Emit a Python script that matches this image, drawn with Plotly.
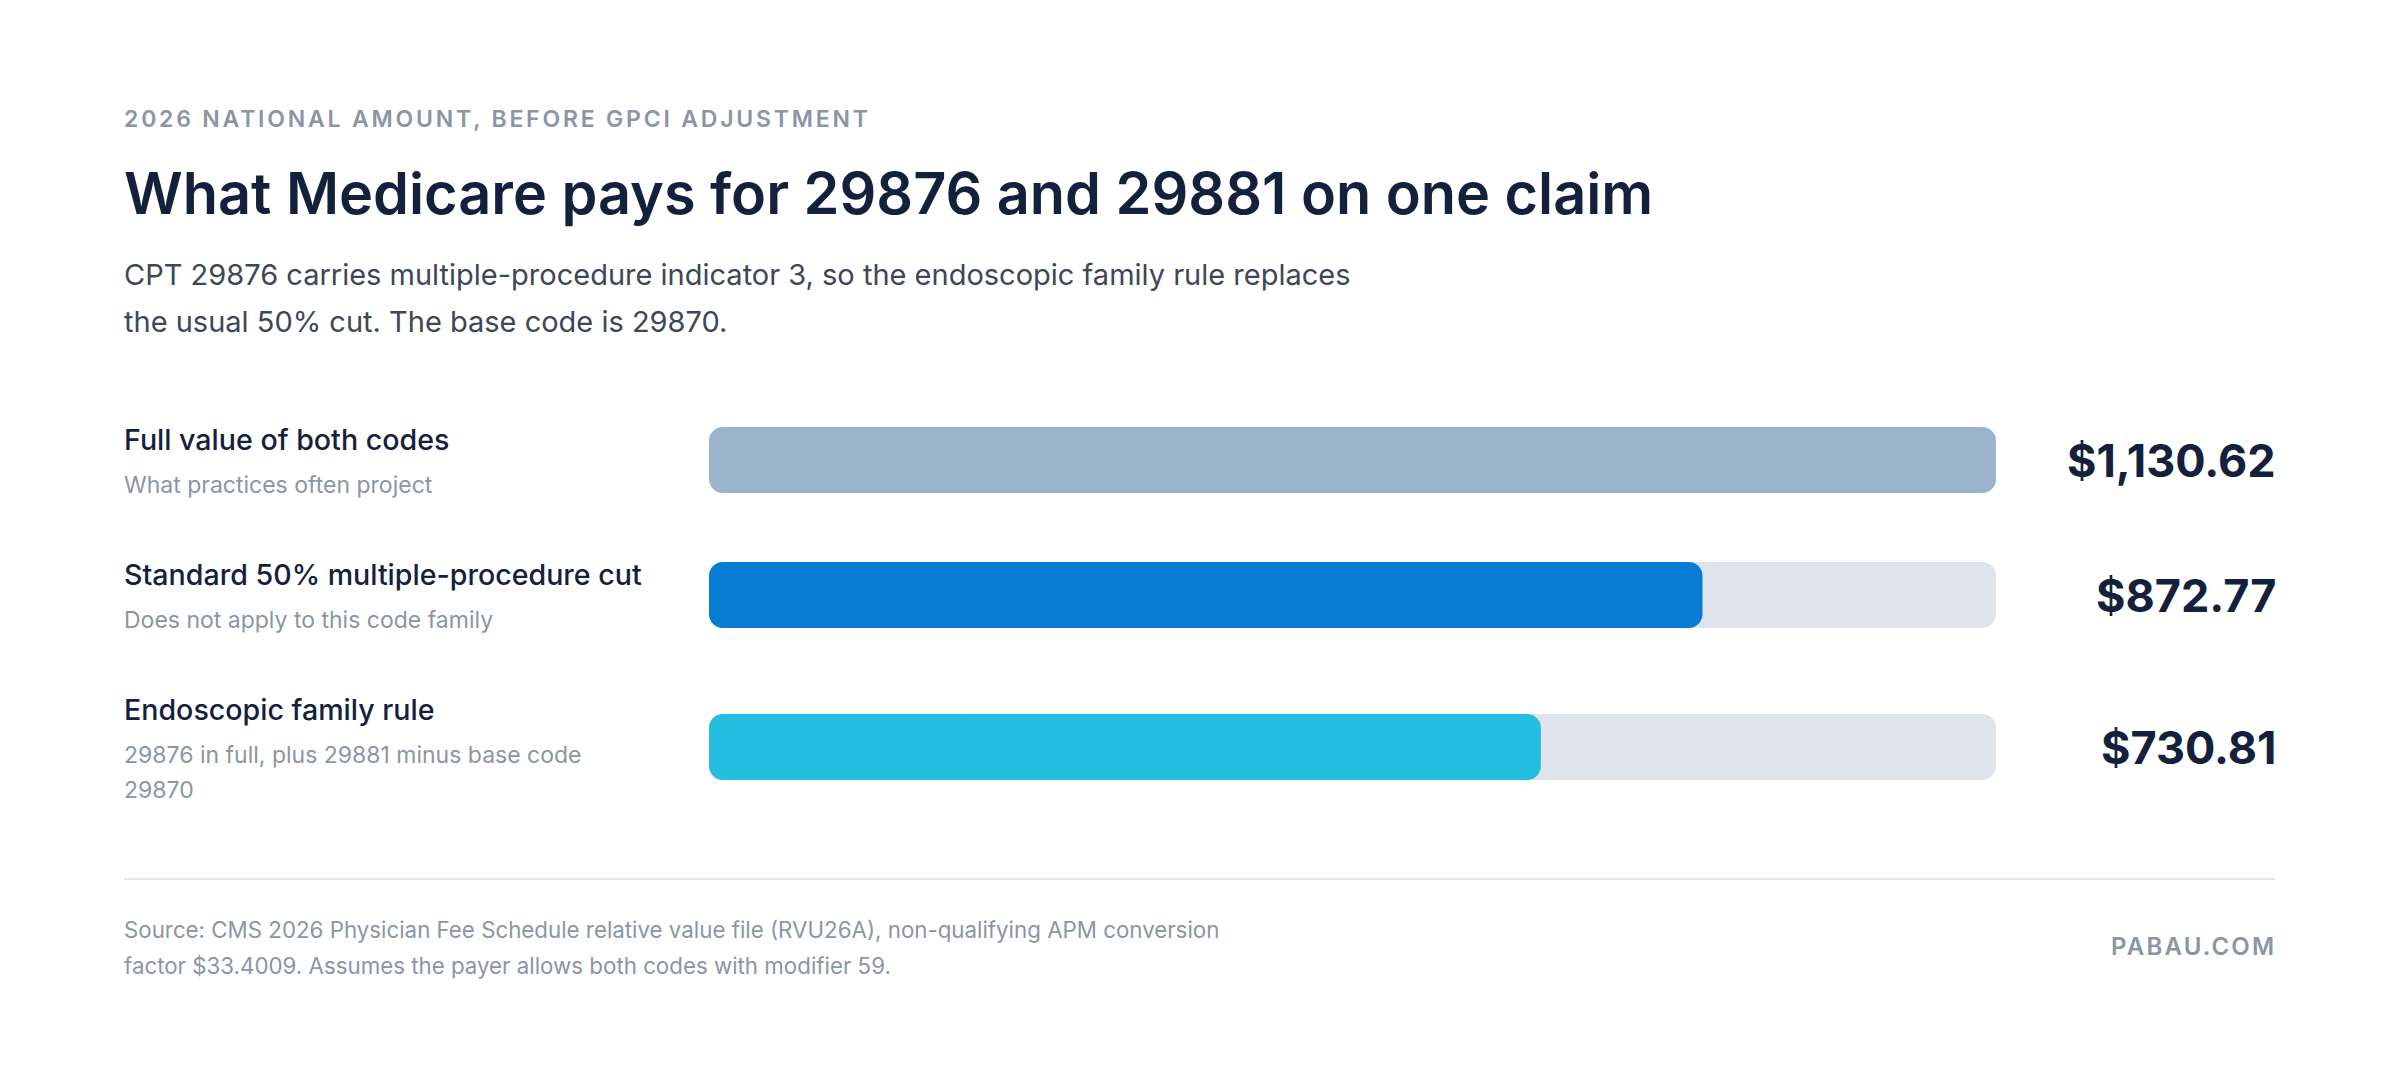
import textwrap
import plotly.graph_objects as go

# --- chart data -------------------------------------------------------------
labels = ["Full value of both codes",
          "Standard 50% multiple-procedure cut",
          "Endoscopic family rule"]
notes = ["What practices often project",
         "Does not apply to this code family",
         "29876 in full, plus 29881 minus base code 29870"]
amounts = [1130.62, 872.77, 730.81]

kicker = "2026 NATIONAL AMOUNT, BEFORE GPCI ADJUSTMENT"
title = "What Medicare pays for 29876 and 29881 on one claim"
subtitle = ["CPT 29876 carries multiple-procedure indicator 3, so the endoscopic family rule replaces",
            "the usual 50% cut. The base code is 29870."]
source = ["Source: CMS 2026 Physician Fee Schedule relative value file (RVU26A), non-qualifying APM conversion",
          "factor $33.4009. Assumes the payer allows both codes with modifier 59."]
brand = "PABAU.COM"

# --- styling ----------------------------------------------------------------
W, H = 2400, 1086
OFF = 8  # page body margin pushes the figure 8px right/down
FONT = "Inter"
NAVY = "#14213d"
GREY = "#8b95a5"
SUB = "#3d4758"
TRACK = "#dfe3ec"
bar_colors = ["#9cb4cb", "#067dd3", "#25bde0"]
RADIUS = 14

def px(x):
    return (x - OFF) / W

left = px(122)
right = px(2278)
bar_x0, bar_x1 = px(709), px(1996)

# wrap notes and work out row centres (taller rows for wrapped notes)
wrapped = [textwrap.wrap(n, 42) for n in notes]
centres = []
y = 460
for i, lines in enumerate(wrapped):
    if i > 0:
        y += 135 + 17 * (len(wrapped[i - 1]) - 1) + 17 * (len(lines) - 1)
    centres.append(y)

top = max(amounts)

fig = go.Figure()

def rounded_bars(values, colors):
    # two overlapping halves, each rounded at its outer end, so the bar
    # gets rounded corners on both sides without a visible seam
    fig.add_trace(go.Bar(x=[-0.7 * v for v in values], base=[0.7 * v for v in values],
                         y=centres, orientation="h", width=66,
                         marker=dict(color=colors, cornerradius=RADIUS, line_width=0),
                         hoverinfo="skip", showlegend=False))
    fig.add_trace(go.Bar(x=[0.7 * v for v in values], base=[0.3 * v for v in values],
                         y=centres, orientation="h", width=66,
                         marker=dict(color=colors, cornerradius=RADIUS, line_width=0),
                         hoverinfo="skip", showlegend=False))

rounded_bars([top] * len(amounts), TRACK)
rounded_bars(amounts, bar_colors)

ann = []
def text(x, y, s, size, color, weight=400, xanchor="left"):
    ann.append(dict(x=x, y=y, xref="paper", yref="y", text=s, showarrow=False,
                    xanchor=xanchor, yanchor="middle", align=xanchor,
                    font=dict(family=FONT, size=size, color=color, weight=weight)))

def spaced(s, sp):
    return f'<span style="letter-spacing:{sp}px">{s}</span>'

text(left, 119, spaced(kicker, 2.8), 23, GREY, 600)
text(left, 193, title, 57.6, NAVY, 600)
text(left, 274, subtitle[0], 29, SUB)
text(left, 321, subtitle[1], 29, SUB)

for lab, lines, c, v in zip(labels, wrapped, centres, amounts):
    ty = c - 21 - 17 * (len(lines) - 1)
    text(left, ty, lab, 28.6, NAVY, 500)
    for k, ln in enumerate(lines):
        text(left, ty + 46 + 35 * k, ln, 23, GREY)
    text(right, c, f"${v:,.2f}", 45, NAVY, 700, xanchor="right")

text(left, 929, source[0], 22.3, GREY)
text(left, 965, source[1], 22.3, GREY)
text(px(2278), 946, spaced(brand, 2.2), 24, GREY, 600, xanchor="right")

fig.add_shape(type="line", xref="paper", yref="y", x0=px(124), x1=px(2275),
              y0=879, y1=879, line=dict(color="#e5e7eb", width=2))

fig.update_layout(
    width=W, height=H,
    margin=dict(l=0, r=0, t=0, b=0),
    barmode="overlay",
    paper_bgcolor="white", plot_bgcolor="white",
    xaxis=dict(domain=[bar_x0, bar_x1], range=[0, top], visible=False, fixedrange=True),
    yaxis=dict(domain=[0, 1], range=[H + OFF, OFF], visible=False, fixedrange=True),
    annotations=ann,
    font=dict(family=FONT),
)

fig.write_html("out.html", config={"displayModeBar": False})
